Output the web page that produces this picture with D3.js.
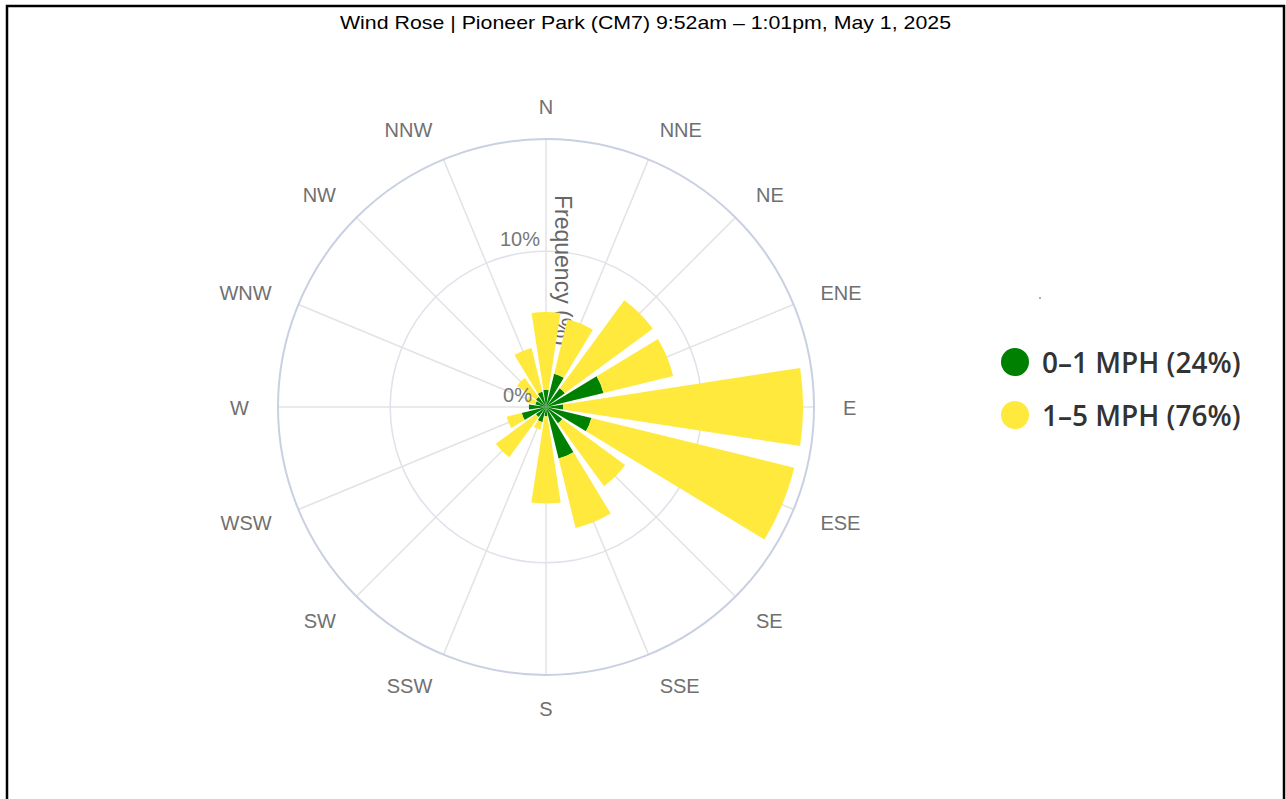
<!DOCTYPE html>
<html>
<head>
<meta charset="utf-8">
<script src="https://cdn.jsdelivr.net/npm/d3@7"></script>
<style>
  body { margin: 0; background: #fff; }
  svg { display: block; }
</style>
</head>
<body>
<svg width="1286" height="799"></svg>
<script>
// **** Data ****
var directions = ['N','NNE','NE','ENE','E','ESE','SE','SSE','S','SSW','SW','WSW','W','WNW','NW','NNW'];
// frequency (%) per direction, stacked: calm first, then 1-5 mph on top
var calmValues  = [1.1, 2.2, 1.5, 3.8, 1.1, 3.0, 1.3, 3.4, 0.6, 1.0, 0.8, 1.6, 1.1, 0.7, 0.8, 1.0];
var breezeValues = [5.0, 3.6, 7.0, 4.6, 15.4, 13.4, 5.0, 4.6, 5.6, 0.5, 3.2, 1.0, 0.0, 0.6, 1.5, 2.9];
var seriesNames = ['0–1 MPH (24%)', '1–5 MPH (76%)'];
var seriesColors = ['#008000', '#ffe93c'];
var radialTicks = [0, 10];
var radialMax = 17.2;

var svg = d3.select('svg');
var cx = 546, cy = 407, outerR = 268;

// frame
svg.append('rect')
    .attr('x', 7).attr('y', 6)
    .attr('width', 1277).attr('height', 900)
    .attr('fill', 'none').attr('stroke', '#000').attr('stroke-width', 2.5);

// title
svg.append('text')
    .attr('x', 340).attr('y', 29)
    .attr('textLength', 611)
    .attr('lengthAdjust', 'spacingAndGlyphs')
    .style('font-family', 'Liberation Sans, Arial, sans-serif')
    .style('font-size', '19px')
    .attr('fill', '#000')
    .text('Wind Rose | Pioneer Park (CM7) 9:52am – 1:01pm, May 1, 2025');

var rScale = d3.scaleLinear().domain([0, radialMax]).range([0, outerR]);
var angleScale = d3.scaleBand().domain(directions).range([-Math.PI / 16, 2 * Math.PI - Math.PI / 16]);

var g = svg.append('g').attr('transform', 'translate(' + cx + ',' + cy + ')');

// spokes
g.selectAll('line.spoke')
    .data(directions)
    .enter().append('line')
    .attr('class', 'spoke')
    .attr('x1', 0).attr('y1', 0)
    .attr('x2', d => outerR * Math.sin(angleScale(d) + angleScale.bandwidth() / 2))
    .attr('y2', d => -outerR * Math.cos(angleScale(d) + angleScale.bandwidth() / 2))
    .attr('stroke', '#e3e3e3').attr('stroke-width', 1.5);

// inner grid circles
g.selectAll('circle.grid')
    .data(radialTicks.filter(d => d > 0))
    .enter().append('circle')
    .attr('class', 'grid')
    .attr('r', d => rScale(d))
    .attr('fill', 'none').attr('stroke', '#dfe2ea').attr('stroke-width', 1.5);

// outer circle
g.append('circle')
    .attr('r', rScale(radialMax))
    .attr('fill', 'none').attr('stroke', '#c9d0e2').attr('stroke-width', 2);

// radial axis title (drawn below the bars)
g.append('text')
    .attr('transform', 'translate(17,' + (-212) + ') rotate(90)')
    .attr('dominant-baseline', 'central')
    .style('font-family', 'Liberation Sans, Arial, sans-serif')
    .style('font-size', '23px')
    .attr('fill', '#666')
    .text('Frequency (%)');

// bars
var stacked = [calmValues, breezeValues];
var arc = d3.arc();
var pad = Math.PI / 72;
stacked.forEach(function(values, si) {
    g.selectAll('path.s' + si)
        .data(directions)
        .enter().append('path')
        .attr('class', 's' + si)
        .attr('d', function(d, i) {
            var base = 0;
            for (var k = 0; k < si; k++) base += stacked[k][i];
            var a0 = angleScale(d) + pad, a1 = angleScale(d) + angleScale.bandwidth() - pad;
            return arc({ innerRadius: rScale(base), outerRadius: rScale(base + values[i]), startAngle: a0, endAngle: a1 });
        })
        .attr('fill', seriesColors[si]);
});

// radial tick labels
g.selectAll('text.rtick')
    .data(radialTicks)
    .enter().append('text')
    .attr('class', 'rtick')
    .attr('x', d => d === 0 ? -14 : -6)
    .attr('y', d => -rScale(d) - 12)
    .attr('text-anchor', 'end')
    .attr('dominant-baseline', 'central')
    .style('font-family', 'Liberation Sans, Arial, sans-serif')
    .style('font-size', '20px')
    .attr('fill', '#777')
    .text(d => d + '%');

// direction labels
var labelR = 297;
g.selectAll('text.dir')
    .data(directions)
    .enter().append('text')
    .attr('class', 'dir')
    .each(function(d) {
        var a = angleScale(d) + angleScale.bandwidth() / 2;
        var s = Math.sin(a), c = Math.cos(a);
        d3.select(this)
            .attr('x', labelR * s)
            .attr('y', -labelR * c - 4 * c + 1)
            .attr('text-anchor', s > 0.2 ? 'start' : (s < -0.2 ? 'end' : 'middle'));
    })
    .attr('dominant-baseline', 'central')
    .style('font-family', 'Liberation Sans, Arial, sans-serif')
    .style('font-size', '20px')
    .attr('fill', '#707070')
    .text(d => d);

// legend
var legend = svg.append('g').attr('transform', 'translate(1015,362)');
var items = legend.selectAll('g')
    .data(seriesNames)
    .enter().append('g')
    .attr('transform', (d, i) => 'translate(0,' + i * 53 + ')');
items.append('circle')
    .attr('r', 14)
    .attr('fill', (d, i) => seriesColors[i]);
items.append('text')
    .attr('x', 27)
    .attr('dominant-baseline', 'central')
    .style('font-family', 'Open Sans, sans-serif')
    .style('font-size', '28px')
    .style('font-weight', 600)
    .attr('fill', '#333')
    .text(d => d);

// stray dot in the original image
svg.append('circle').attr('cx', 1040).attr('cy', 298).attr('r', 0.8).attr('fill', '#555');
</script>
</body>
</html>
